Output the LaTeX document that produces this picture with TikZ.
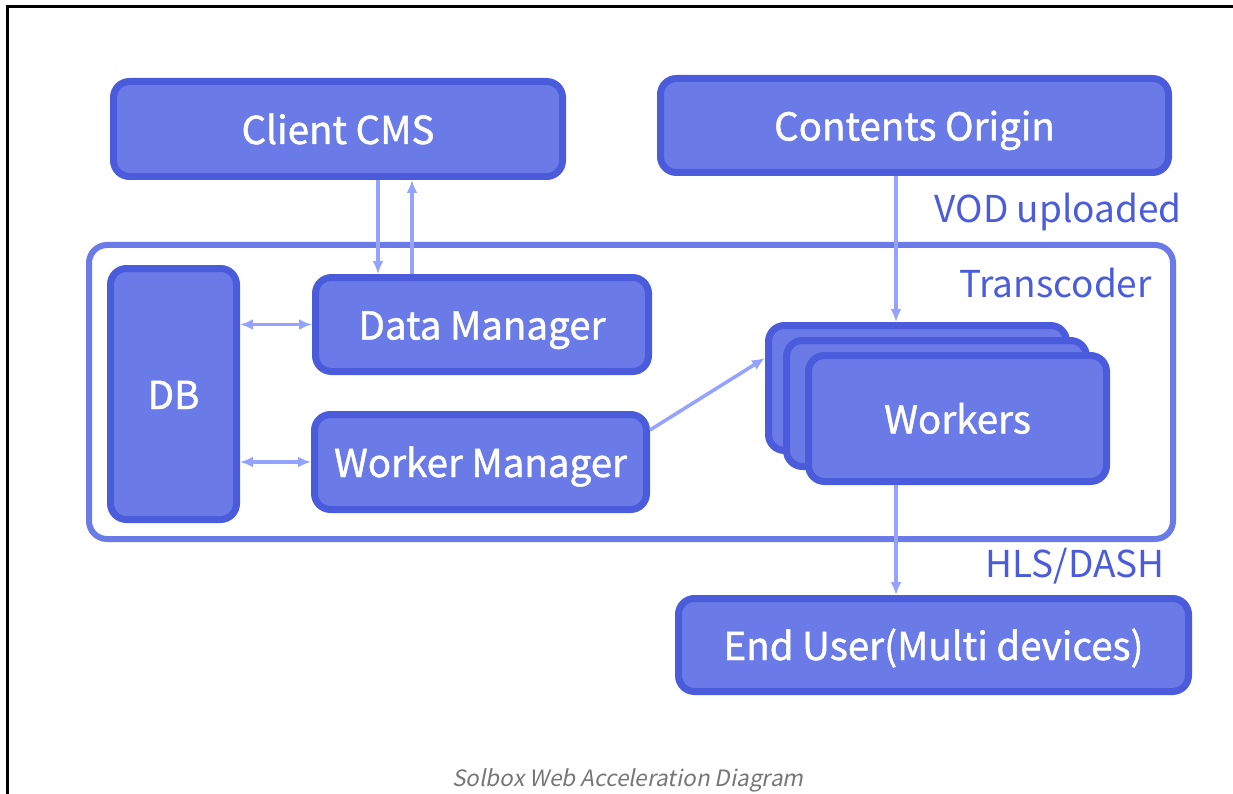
\documentclass[tikz,border=0pt]{standalone}
\usepackage{fontspec}
\setmainfont{Noto Sans CJK KR}
\newfontfamily\boxfont[FakeBold=1.2]{Noto Sans CJK KR}
\newfontfamily\capfont[FakeSlant=0.2]{Noto Sans CJK KR}
\usetikzlibrary{arrows.meta}
\definecolor{boxline}{RGB}{74,92,220}
\definecolor{boxfill}{RGB}{106,123,232}
\definecolor{arrowblue}{RGB}{148,163,255}
\definecolor{capgray}{RGB}{118,118,118}

\begin{document}
\begin{tikzpicture}[x=1pt, y=-1pt, >={Latex[length=13pt,width=11pt]},
  blk/.style={draw=boxline, fill=boxfill, line width=7pt, rounded corners=16pt, text=white, font=\boxfont\fontsize{38.5}{44}\selectfont, inner sep=0pt, text height=32pt, text depth=2pt},
  lbl/.style={text=boxline, font=\fontsize{37}{44}\selectfont, inner sep=0pt, anchor=base east},
  flow/.style={draw=arrowblue, line width=3.5pt}]
\useasboundingbox (0,0) rectangle (1233,794);
\draw[line width=2.2pt] (7.5,794) -- (7.5,6.5) -- (1233,6.5);
% transcoder frame
\node (tc) at (631,392) [draw=boxfill, line width=6pt, rounded corners=18pt, minimum width=1084pt, minimum height=294pt] {};
\node at (1152,297) [lbl] {Transcoder};
% boxes
\node (cms) at (338,129) [blk, minimum width=449pt, minimum height=95pt] {Client CMS};
\node (origin) at (914.5,125.5) [blk, minimum width=508pt, minimum height=94pt] {Contents Origin};
\node (db) at (173.5,394) [blk, minimum width=126pt, minimum height=251pt] {DB};
\node (dm) at (482,324.5) [blk, minimum width=333pt, minimum height=94pt] {Data Manager};
\node (wm) at (480.5,462) [blk, minimum width=332pt, minimum height=95pt] {Worker Manager};
\node (back) at (917.5,388) [blk, minimum width=298pt, minimum height=125pt] {};
\node (mid) at (936.5,403.5) [blk, minimum width=300pt, minimum height=126pt] {};
\node (front) at (957.5,418.5) [blk, minimum width=298pt, minimum height=126pt] {Workers};
\node (eu) at (933.5,645) [blk, minimum width=510pt, minimum height=93pt] {End User(Multi devices)};
% labels
\node at (1182,223) [lbl] {VOD uploaded};
\node at (1165,577) [lbl] {HLS/DASH};
\node (cap) at (628,786) [anchor=base, inner sep=0pt, text=capgray, font=\capfont\fontsize{22.5}{26}\selectfont] {Solbox Web Acceleration Diagram};
% arrows
\coordinate (tap) at ([xshift=-18.5pt]origin.south);
\draw[flow,->] ([xshift=40pt]cms.south) -- ([xshift=40pt]cms.south |- dm.north);
\draw[flow,->] ([xshift=-70pt]dm.north) -- ([xshift=-70pt]dm.north |- cms.south);
\draw[flow,<->] (db.east |- dm) -- (dm.west);
\draw[flow,<->] (db.east |- wm) -- (wm.west);
\draw[flow,->] (tap) -- (tap |- back.north);
\draw[flow,->] ([yshift=32pt]wm.east) -- ([yshift=30pt]back.west);
\draw[flow,->] (front.south -| tap) -- (eu.north -| tap);
\end{tikzpicture}
\end{document}
